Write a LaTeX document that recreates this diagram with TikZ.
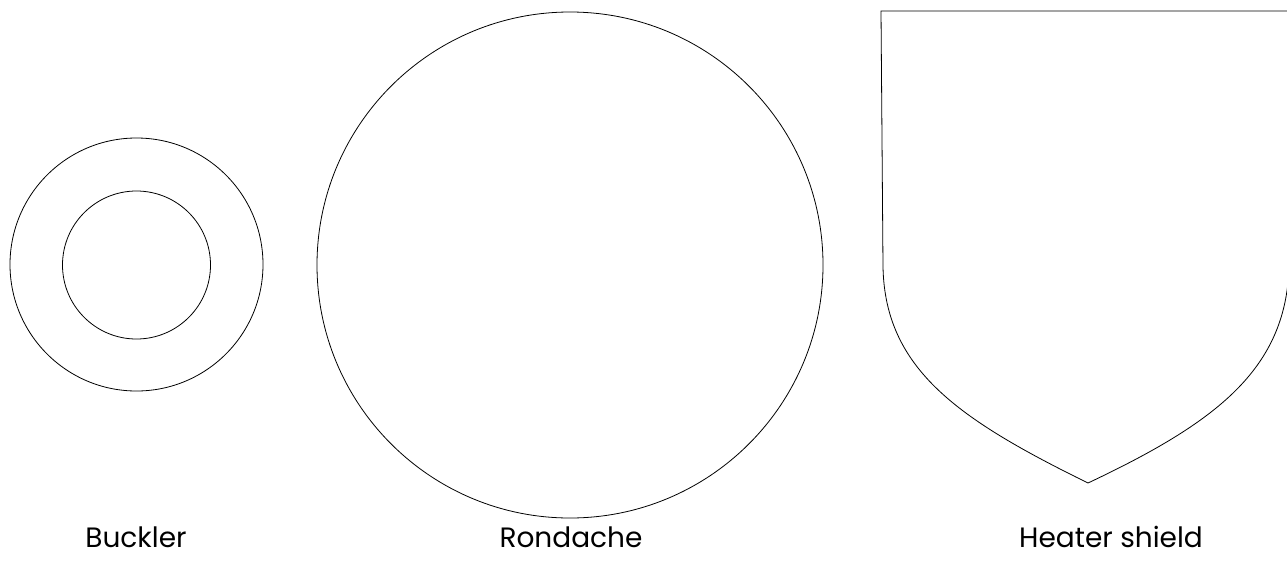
\documentclass[tikz,border=0pt]{standalone}
\usepackage{fontspec}
\setmainfont{Poppins}

\begin{document}
\begin{tikzpicture}[x=1pt,y=-1pt,
  outline/.style={draw=black, line width=0.8pt},
  rim/.style={outline, circle, inner sep=0pt},
  caption/.style={anchor=base, font=\fontsize{28}{32}\selectfont}]

\useasboundingbox (0,0) rectangle (1287,560);
\clip (0,0) rectangle (1287,560);

% -------------------------------------------------
% Buckler (two rings)
% -------------------------------------------------
\node[rim, minimum size=253pt] (bucklerOuter) at (136.5,264.5) {};
\node[rim, minimum size=148pt] (bucklerInner) at (136.5,265) {};

% -------------------------------------------------
% Rondache
% -------------------------------------------------
\node[rim, minimum size=506pt] (rondache) at (570,265) {};

% -------------------------------------------------
% Heater shield (runs past the right edge)
% -------------------------------------------------
\draw[outline] (881,11) -- (883,267)
  .. controls (885,370) and (960,420) .. (1088,483)
  .. controls (1215,423) and (1286,370) .. (1289,267)
  -- (1291,11) -- cycle;

% -------------------------------------------------
% Labels
% -------------------------------------------------
\node[caption] (bucklerLabel) at (136,547) {Buckler};
\node[caption] (rondacheLabel) at (571,547) {Rondache};
\node[caption] (heaterLabel) at (1111,547) {Heater shield};

\end{tikzpicture}
\end{document}
